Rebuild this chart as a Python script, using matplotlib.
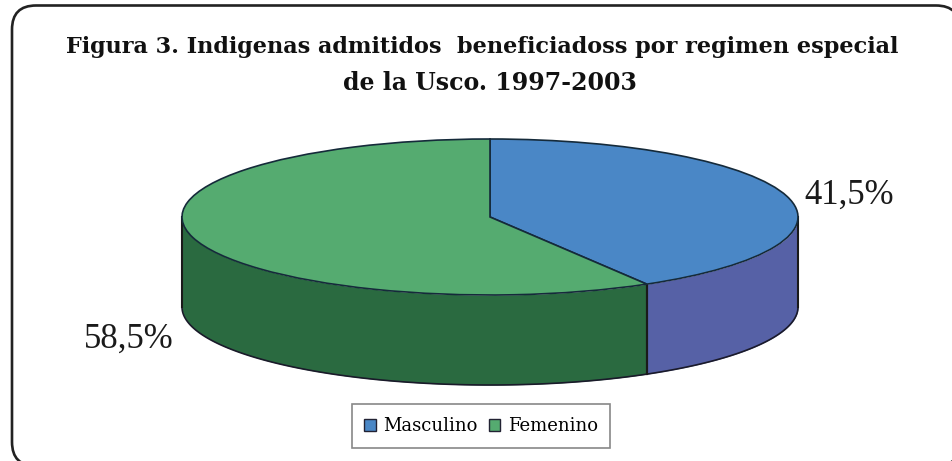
import numpy as np
import matplotlib
matplotlib.use('Agg')
import matplotlib.pyplot as plt
from matplotlib.patches import Wedge, Patch, FancyBboxPatch
from matplotlib.transforms import Affine2D

labels = ['Masculino', 'Femenino']
shares = [41.5, 58.5]
value_labels = ['41,5%', '58,5%']
top_colors = ['#4a87c6', '#55ab70']
side_colors = ['#5661a6', '#2a6a40']

title_1 = 'Figura 3. Indigenas admitidos  beneficiadoss por regimen especial'
title_2 = 'de la Usco. 1997-2003'

plt.rcParams['font.family'] = ['Liberation Serif', 'DejaVu Serif']

fig = plt.figure(figsize=(9.53, 4.61), dpi=100)
ax = fig.add_axes([0, 0, 1, 1])
# axes in pixels, y going down
ax.set_xlim(0, 953)
ax.set_ylim(461, 0)
ax.axis('off')

# frame runs off the right and bottom of the picture
ax.add_patch(FancyBboxPatch((12, 5.5), 948, 460.5, boxstyle='round,pad=0,rounding_size=24',
                            mutation_scale=1, fc='white', ec='#222222', lw=1.9))

cx, cy, a, b, depth = 490, 217, 308, 78, 90

# angles clockwise on screen, starting at the top of the pie
ends = -90 + np.cumsum([0] + shares) * 3.6

# side walls, only the front half shows
for i in range(2):
    t1 = max(ends[i], 0)
    t2 = min(ends[i + 1], 180)
    t = np.radians(np.linspace(t1, t2, 100))
    x = cx + a * np.cos(t)
    y = cy + b * np.sin(t)
    ax.fill_between(x, y, y + depth, color=side_colors[i], lw=0, zorder=2)
    ax.plot(x, y + depth, color='#1a1a2a', lw=1.2, zorder=3)
    ax.plot([x[0], x[0]], [y[0], y[0] + depth], color='#1a1a1a', lw=1.5, zorder=3)
    ax.plot([x[-1], x[-1]], [y[-1], y[-1] + depth], color='#1a1a1a', lw=1.5, zorder=3)

# top face
tr = Affine2D().scale(a, b).translate(cx, cy) + ax.transData
for i in range(2):
    ax.add_patch(Wedge((0, 0), 1, ends[i], ends[i + 1], transform=tr, fc=top_colors[i],
                       ec='#152a3a', lw=1.2, zorder=4))

ax.text(482, 47, title_1, ha='center', va='center', fontsize=16.1, fontweight='bold',
        family='DejaVu Serif', color='#111111')
ax.text(490, 83, title_2, ha='center', va='center', fontsize=17, fontweight='bold',
        family='DejaVu Serif', color='#111111')
ax.text(849, 195, value_labels[0], ha='center', va='center', fontsize=25, color='#1a1a1a')
ax.text(129, 339, value_labels[1], ha='center', va='center', fontsize=25, color='#1a1a1a')

handles = [Patch(fc=c, ec='#222233', lw=1) for c in top_colors]
leg = ax.legend(handles, labels, loc='center', bbox_to_anchor=(481 / 953, 1 - 426 / 461),
                ncol=2, prop={'family': 'DejaVu Serif', 'size': 13}, frameon=True,
                fancybox=False, edgecolor='#888888', framealpha=1, handlelength=0.65,
                handleheight=0.65, handletextpad=0.4, columnspacing=0.6, borderpad=0.7)
leg.get_frame().set_linewidth(1.2)

fig.savefig('out.png', dpi=100)
